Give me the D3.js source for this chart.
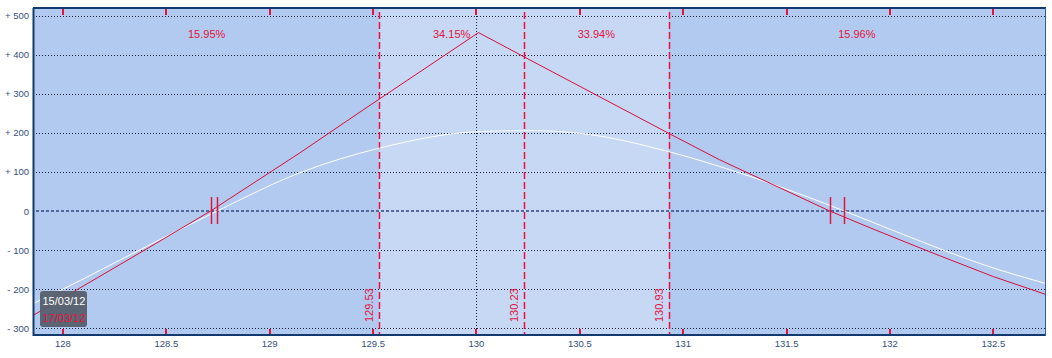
<!DOCTYPE html>
<html lang="en">
<head>
  <meta charset="utf-8">
  <title>Payoff Chart</title>
  <script src="https://d3js.org/d3.v7.min.js"></script>
  <style>
    body { margin: 0; background: #fff; }
    svg text { font-family: "Liberation Sans", Arial, sans-serif; }
  </style>
</head>
<body>
<svg id="chart" width="1052" height="358"></svg>
<script>
  // chart data
  const xTicks = [128, 128.5, 129, 129.5, 130, 130.5, 131, 131.5, 132, 132.5];
  const yTicks = [500, 400, 300, 200, 100, 0, -100, -200, -300];
  const yTickLabels = ["+ 500", "+ 400", "+ 300", "+ 200", "+ 100", "0", "- 100", "- 200", "- 300"];
  const levels = [129.53, 130.23, 130.93];
  const levelLabels = ["129.53", "130.23", "130.93"];
  const zonePercents = ["15.95%", "34.15%", "33.94%", "15.96%"];
  const breakevens = [128.714, 128.746, 131.709, 131.78];
  const dates = ["15/03/12", "17/03/12"];

  // red line (17/03/12)
  const redX = [127.86, 128.397, 128.714, 129.146, 129.452, 130.01, 130.23, 130.93, 131.177, 131.709, 131.927, 132.19, 132.5, 132.75];
  const redY = [-266, -99.5, 0, 149, 259, 457, 395, 199, 131, 0, -48, -104, -168, -213];
  // white curve (15/03/12)
  const whiteX = [127.86, 127.985, 128.372, 128.746, 129.146, 129.53, 130.0, 130.25, 130.5, 130.93, 131.177, 131.78, 132.007, 132.53, 132.75];
  const whiteY = [-236, -204, -99.5, 0, 98, 161, 203, 206, 199, 152, 114, 0, -48, -151, -185];

  const svg = d3.select("#chart");
  const pLeft = 34, pRight = 1045, pTop = 8, pBottom = 334;
  const xMin = 127.86, xMax = 132.75;

  const x = d3.scaleLinear().domain([xMin, xMax]).range([pLeft, pRight]);
  const y = d3.scaleLinear().domain([-315, 520]).range([pBottom, pTop]);
  const px = v => Math.round(x(v)) + 0.5;

  // backgrounds
  svg.append("rect")
    .attr("x", pLeft).attr("y", pTop)
    .attr("width", pRight - pLeft).attr("height", pBottom - pTop)
    .attr("fill", "#b2caef");
  svg.append("rect")
    .attr("x", Math.round(x(levels[0]))).attr("y", pTop)
    .attr("width", Math.round(x(levels[2])) - Math.round(x(levels[0]))).attr("height", pBottom - pTop)
    .attr("fill", "#c6d8f4");

  // horizontal grid
  svg.append("g").selectAll("line")
    .data(yTicks.filter(d => d !== 0))
    .enter().append("line")
    .attr("x1", pLeft + 2).attr("x2", pRight)
    .attr("y1", d => Math.round(y(d)) + 0.5).attr("y2", d => Math.round(y(d)) + 0.5)
    .attr("stroke", "#1a2440")
    .attr("stroke-dasharray", "1,2");

  // zero line
  svg.append("line")
    .attr("x1", pLeft + 2).attr("x2", pRight)
    .attr("y1", Math.round(y(0))).attr("y2", Math.round(y(0)))
    .attr("stroke", "#55689a")
    .attr("stroke-width", 2)
    .attr("stroke-dasharray", "3,2");

  // dotted line at 130
  svg.append("line")
    .attr("x1", px(130)).attr("x2", px(130))
    .attr("y1", pTop + 2).attr("y2", pBottom)
    .attr("stroke", "#1a2440")
    .attr("stroke-dasharray", "1,2");

  // level lines
  svg.append("g").selectAll("line")
    .data(levels)
    .enter().append("line")
    .attr("x1", d => px(d)).attr("x2", d => px(d))
    .attr("y1", y(510)).attr("y2", pBottom)
    .attr("stroke", "#ee1040")
    .attr("stroke-width", 1.5)
    .attr("stroke-dasharray", "7,3");

  svg.append("g").selectAll("text")
    .data(levels)
    .enter().append("text")
    .attr("transform", d => "translate(" + (x(d) - 6) + "," + 322 + ") rotate(-90)")
    .attr("fill", "#e2143e")
    .attr("font-size", 11)
    .text((d, i) => levelLabels[i]);

  // zone percentages
  const bounds = [xMin].concat(levels, [xMax]);
  const zoneBounds = [[bounds[0], bounds[1]], [bounds[1], bounds[2]], [bounds[2], bounds[3]], [bounds[3], bounds[4]]];
  svg.append("g").selectAll("text")
    .data(zoneBounds)
    .enter().append("text")
    .attr("x", d => x((d[0] + d[1]) / 2))
    .attr("y", 38)
    .attr("text-anchor", "middle")
    .attr("fill", "#e2143e")
    .attr("font-size", 11)
    .text((d, i) => zonePercents[i]);

  // curves
  svg.append("path")
    .datum(whiteX.map((d, i) => [d, whiteY[i]]))
    .attr("d", d3.line().x(d => x(d[0])).y(d => y(d[1])).curve(d3.curveMonotoneX))
    .attr("fill", "none")
    .attr("stroke", "#ffffff")
    .attr("stroke-width", 1);
  svg.append("path")
    .datum(redX.map((d, i) => [d, redY[i]]))
    .attr("d", d3.line().x(d => x(d[0])).y(d => y(d[1])))
    .attr("fill", "none")
    .attr("stroke", "#d8103c")
    .attr("stroke-width", 1);

  // breakeven markers
  svg.append("g").selectAll("line")
    .data(breakevens)
    .enter().append("line")
    .attr("x1", d => px(d)).attr("x2", d => px(d))
    .attr("y1", y(0) - 14).attr("y2", y(0) + 13)
    .attr("stroke", "#e2143e")
    .attr("stroke-width", 1.5);

  // tick marks (top and bottom)
  svg.append("g").selectAll("rect")
    .data(xTicks)
    .enter().append("rect")
    .attr("x", d => Math.round(x(d)) - 1).attr("y", pTop + 1)
    .attr("width", 2).attr("height", 6)
    .attr("fill", "#e2143e");
  svg.append("g").selectAll("rect")
    .data(xTicks)
    .enter().append("rect")
    .attr("x", d => Math.round(x(d)) - 1).attr("y", pBottom - 5)
    .attr("width", 2).attr("height", 5)
    .attr("fill", "#e2143e");

  // borders
  svg.append("line").attr("x1", pLeft - 1).attr("x2", pRight + 1).attr("y1", pTop).attr("y2", pTop)
    .attr("stroke", "#123a6e").attr("stroke-width", 2);
  svg.append("line").attr("x1", pLeft - 1).attr("x2", pRight + 1).attr("y1", pBottom + 1).attr("y2", pBottom + 1)
    .attr("stroke", "#123a6e").attr("stroke-width", 2);
  svg.append("line").attr("x1", pLeft - 0.5).attr("x2", pLeft - 0.5).attr("y1", pTop).attr("y2", pBottom + 2)
    .attr("stroke", "#123a6e").attr("stroke-width", 2);
  svg.append("line").attr("x1", pRight + 0.5).attr("x2", pRight + 0.5).attr("y1", pTop).attr("y2", pBottom + 2)
    .attr("stroke", "#3a5a8e").attr("stroke-width", 1);

  // axis labels
  svg.append("g").selectAll("text")
    .data(yTicks)
    .enter().append("text")
    .attr("x", 29)
    .attr("y", d => y(d) + 3.5)
    .attr("text-anchor", "end")
    .attr("fill", "#34507e")
    .attr("font-size", 9.5)
    .text((d, i) => yTickLabels[i]);

  svg.append("g").selectAll("text")
    .data(xTicks)
    .enter().append("text")
    .attr("x", d => x(d))
    .attr("y", 347)
    .attr("text-anchor", "middle")
    .attr("fill", "#34507e")
    .attr("font-size", 9.5)
    .text(d => d);

  // date box
  const box = svg.append("g").attr("transform", "translate(40,291)");
  box.append("rect")
    .attr("width", 47).attr("height", 36)
    .attr("rx", 3)
    .attr("fill", "#565e6c")
    .attr("fill-opacity", 0.95);
  box.selectAll("text")
    .data(dates)
    .enter().append("text")
    .attr("x", 2.5)
    .attr("y", (d, i) => 14 + i * 17)
    .attr("fill", (d, i) => i === 0 ? "#ffffff" : "#e2143e")
    .attr("font-size", 11)
    .text(d => d);
</script>
</body>
</html>
